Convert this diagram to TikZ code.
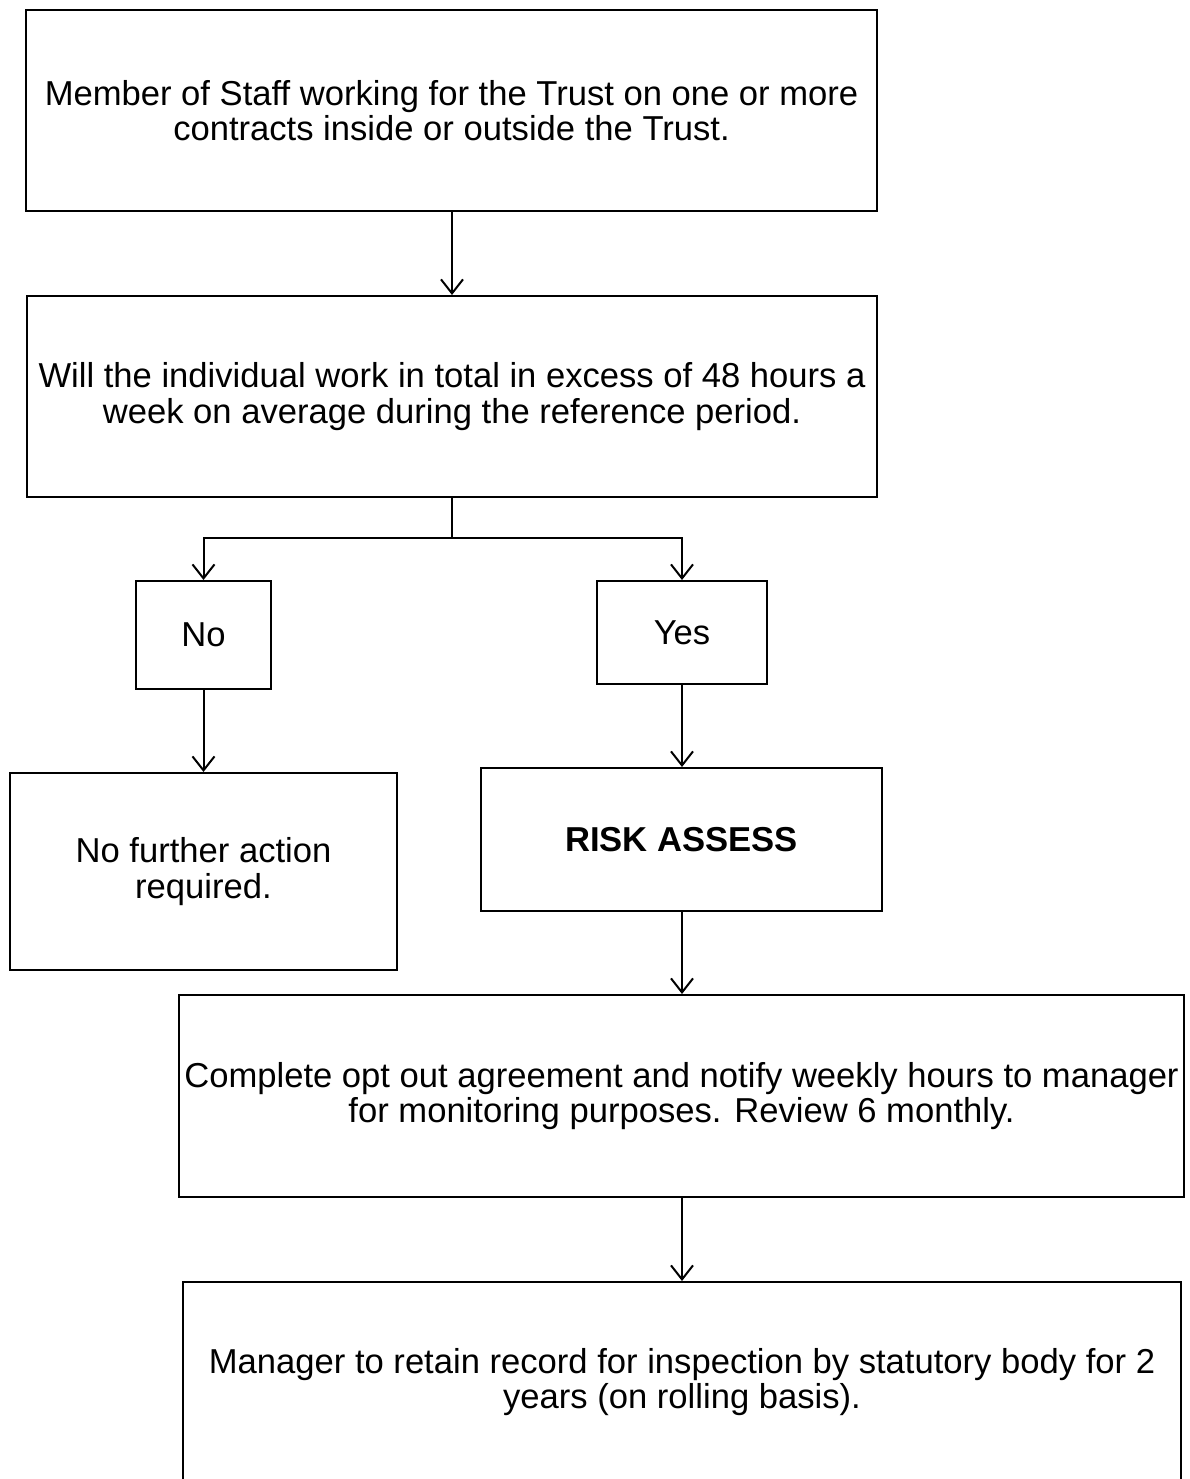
\documentclass[tikz,border=0pt]{standalone}
\usepackage{fontspec}
\setmainfont{Liberation Sans}
\usetikzlibrary{arrows.meta}
\begin{document}
\begin{tikzpicture}[x=1pt,y=-1pt,
  box/.style={draw=black,line width=2pt,align=center,inner sep=0pt,
    font=\fontsize{34.6}{35.5}\selectfont},
  arr/.style={line width=2pt,-{Straight Barb[length=14pt,width=22pt,line width=2pt]}},
  ln/.style={line width=2pt}]
\useasboundingbox (0,0) rectangle (1190,1479);
\clip (0,0) rectangle (1190,1479);
\fill[white] (0,0) rectangle (1190,1479);
\node[box,minimum width=851pt,minimum height=201pt] (b1) at (451.5,110.5)
  {Member of Staff working for the Trust on one or more\\contracts inside or outside the Trust.};
\node[box,minimum width=850pt,minimum height=201pt] (b2) at (452,396.5)
  {Will the individual work in total in excess of 48 hours a\\week on average during the reference period.};
\node[box,minimum width=135pt,minimum height=108pt] (no) at (203.5,635) {No};
\node[box,minimum width=170pt,minimum height=103pt] (yes) at (682,632.5) {Yes};
\node[box,minimum width=387pt,minimum height=197pt] (nfa) at (203.5,871.5)
  {No further action\\required.};
\node[box,minimum width=401pt,minimum height=143pt] (risk) at (681.5,839.5)
  {\bfseries RISK ASSESS};
\node[box,minimum width=1005pt,minimum height=202pt] (opt) at (681.5,1096)
  {Complete opt out agreement and notify weekly hours to manager\\for monitoring purposes. Review 6 monthly.};
\node[box,minimum width=998pt,minimum height=200pt] (mgr) at (682,1382)
  {Manager to retain record for inspection by statutory body for 2\\years (on rolling basis).};
\coordinate (split) at (452,538);
\draw[arr] (b1.south -| 452,0) -- (b2.north -| 452,0);
\draw[ln] (b2.south -| split) -- (split);
\draw[arr] (split) -| (no.north);
\draw[arr] (split) -| (yes.north);
\draw[arr] (no.south) -- (nfa.north -| no.south);
\draw[arr] (yes.south) -- (risk.north -| yes.south);
\draw[arr] (risk.south -| yes.south) -- (opt.north -| yes.south);
\draw[arr] (opt.south -| yes.south) -- (mgr.north -| yes.south);
\end{tikzpicture}
\end{document}
